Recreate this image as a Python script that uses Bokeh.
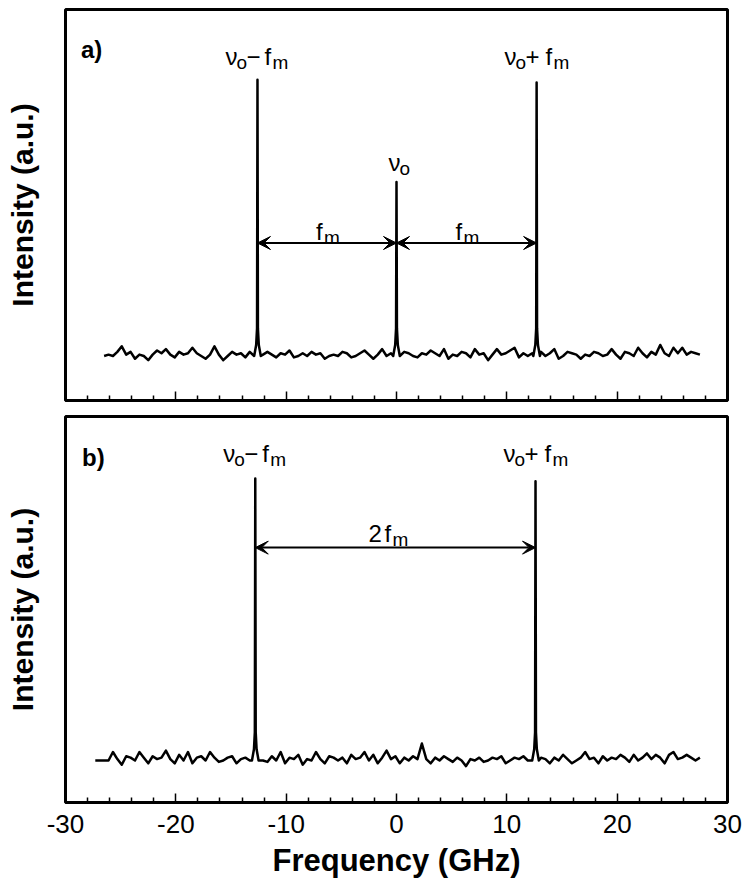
import numpy as np
from bokeh.plotting import figure
from bokeh.layouts import column
from bokeh.models import Range1d, Arrow, VeeHead, FixedTicker, CustomLabelingPolicy
from bokeh.core.properties import value
from bokeh.embed import file_html
from bokeh.resources import INLINE

# ---------------- data ----------------
X_MAJOR = [-30, -20, -10, 0, 10, 20, 30]
X_MINOR = [-28, -26, -24, -22, -18, -16, -14, -12, -8, -6, -4, -2,
           2, 4, 6, 8, 12, 14, 16, 18, 22, 24, 26, 28]
X_TICK_LABELS = ["-30", "-20", "-10", "0", "10", "20", "30"]

# panel a) peaks (GHz, normalised intensity)
PEAK_A_X = [-12.6, 0.0, 12.7]
PEAK_A_H = [1.00, 0.63, 0.99]
# panel b) peaks
PEAK_B_X = [-12.8, 12.6]
PEAK_B_H = [1.00, 0.99]

NOISE_STEP = 0.4
NOISE_A_START = -26.5
NOISE_A = [
    0.00, 0.005, 0.00, 0.015, 0.035, 0.005, 0.015, -0.01, 0.005, 0.00,
    -0.015, 0.005, 0.02, 0.01, 0.025, 0.005, -0.005, 0.015, 0.005, 0.01,
    0.03, 0.01, 0.00, -0.01, 0.005, 0.035, 0.005, -0.015, 0.00, 0.015,
    0.005, 0.01, -0.005, 0.015, 0.00, -0.01, 0.005, 0.015, 0.005, -0.005,
    0.01, 0.005, 0.02, -0.005, 0.00, 0.01, 0.00, 0.015, 0.005, 0.01,
    -0.01, 0.00, 0.005, 0.00, 0.015, 0.01, -0.005, 0.00, 0.01, 0.02,
    0.005, -0.01, 0.005, 0.025, 0.00, 0.01, -0.005, 0.00, 0.015, 0.01,
    0.00, -0.005, 0.01, 0.005, 0.02, 0.01, 0.00, 0.025, -0.01, 0.005,
    0.00, 0.015, 0.01, -0.005, 0.025, 0.005, 0.01, -0.015, 0.005, 0.025,
    0.005, 0.01, 0.02, 0.03, -0.005, 0.01, 0.00, 0.01, -0.005, 0.015,
    0.00, 0.01, 0.025, -0.01, 0.00, 0.015, 0.01, 0.005, -0.01, 0.005,
    0.00, 0.015, 0.01, 0.00, 0.005, 0.025, 0.005, -0.01, 0.015, 0.01,
    0.00, 0.03, 0.01, -0.005, 0.015, 0.005, 0.04, 0.01, 0.00, 0.03,
    0.01, 0.03, 0.005, 0.015, 0.01, 0.005,
]
NOISE_B_START = -27.3
NOISE_B = [
    0.00, 0.00, 0.00, 0.00, 0.03, 0.005, -0.015, 0.015, 0.01, 0.00,
    0.03, 0.01, -0.01, 0.015, 0.005, 0.01, 0.035, 0.005, -0.01, 0.02,
    0.00, 0.03, -0.01, 0.01, 0.015, 0.00, 0.03, 0.01, -0.005, 0.00,
    0.01, 0.015, -0.01, 0.005, 0.01, 0.00, 0.015, 0.01, 0.00, -0.005,
    0.015, 0.00, 0.03, -0.01, 0.01, 0.005, 0.02, -0.015, 0.005, 0.00,
    0.03, 0.005, -0.01, 0.015, 0.01, 0.00, 0.01, -0.01, 0.02, 0.005,
    0.01, 0.03, 0.00, 0.02, -0.01, 0.01, 0.035, 0.005, 0.015, -0.01,
    0.01, 0.00, 0.015, 0.005, 0.06, 0.005, -0.01, 0.01, 0.00, 0.015,
    0.005, -0.005, 0.01, 0.00, -0.02, 0.005, 0.00, 0.01, -0.005, 0.00,
    0.01, 0.005, 0.015, -0.01, 0.00, 0.01, 0.005, 0.015, 0.00, 0.01,
    0.00, 0.01, 0.005, -0.01, 0.01, 0.00, 0.02, 0.005, -0.01, 0.00,
    0.01, 0.03, 0.005, 0.01, -0.01, 0.015, 0.00, 0.01, 0.005, 0.02,
    0.01, -0.005, 0.02, 0.00, 0.01, 0.025, 0.005, 0.02, 0.01, -0.01,
    0.02, 0.03, 0.005, 0.01, 0.02, 0.01, 0.00, 0.01,
]

# narrow line shape of each peak (offset in GHz, base level; None = peak top)
PEAK_DX = [-0.3, -0.12, -0.04, 0.0, 0.04, 0.12, 0.3]
PEAK_BASE = [0.0, 0.04, 0.10, None, 0.10, 0.04, 0.0]

# ---------------- styling ----------------
FONT = "Liberation Sans"
MAIN_SIZE = "24px"
SUB_SIZE = "19px"
SUB_DY = 6
W = 750


def spectrum(start, noise, px, ph):
    nx = start + NOISE_STEP * np.arange(len(noise))
    pts = [(float(x), y) for x, y in zip(nx, noise)
           if min(abs(x - p) for p in px) > 0.35]
    for p, h in zip(px, ph):
        for dx, by in zip(PEAK_DX, PEAK_BASE):
            pts.append((p + dx, h if by is None else by))
    pts.sort()
    return [a for a, _ in pts], [b for _, b in pts]


def make_fig(height, top, bottom, yr, show_labels):
    p = figure(width=W, height=height, x_range=Range1d(-30, 30),
               y_range=Range1d(*yr), output_backend="svg",
               toolbar_location=None, min_border_left=65,
               min_border_right=23, min_border_top=top,
               min_border_bottom=bottom)
    p.background_fill_color = "white"
    p.border_fill_color = "white"
    p.outline_line_color = "black"
    p.outline_line_width = 3
    p.outline_line_alpha = 1
    p.grid.visible = False
    ax = p.xaxis[0]
    ax.ticker = FixedTicker(ticks=X_MAJOR, minor_ticks=X_MINOR)
    ax.axis_line_width = 3
    ax.axis_line_color = "black"
    ax.major_tick_in = 9
    ax.major_tick_out = 0
    ax.minor_tick_in = 5
    ax.minor_tick_out = 0
    ax.major_tick_line_width = 1.5
    ax.minor_tick_line_width = 1.5
    ax.major_tick_line_color = "black"
    ax.minor_tick_line_color = "black"
    if show_labels:
        ax.major_label_overrides = dict(zip(X_MAJOR, X_TICK_LABELS))
        ax.major_label_text_font = FONT
        ax.major_label_text_font_size = "26px"
        ax.major_label_text_color = "black"
        ax.major_label_standoff = 12
        ax.axis_label = "Frequency (GHz)"
        ax.axis_label_text_font = FONT
        ax.axis_label_text_font_size = "31px"
        ax.axis_label_text_font_style = "bold"
        ax.axis_label_text_color = "black"
        ax.axis_label_standoff = 7
    else:
        ax.major_label_policy = CustomLabelingPolicy(code="return []")
        ax.major_label_standoff = 0
    ay = p.yaxis[0]
    ay.ticker = FixedTicker(ticks=[])
    ay.axis_line_color = None
    ay.major_tick_line_color = None
    ay.minor_tick_line_color = None
    ay.major_label_standoff = 0
    ay.axis_label = "Intensity (a.u.)"
    ay.axis_label_text_font = FONT
    ay.axis_label_text_font_size = "30px"
    ay.axis_label_text_font_style = "bold"
    ay.axis_label_text_color = "black"
    ay.axis_label_standoff = 27
    return p


def add_label(p, x, y, pieces):
    for txt, dx, sub in pieces:
        p.text(x=[x], y=[y], text=[txt], x_offset=dx,
               y_offset=SUB_DY if sub else 0,
               text_font=value(FONT),
               text_font_size=SUB_SIZE if sub else MAIN_SIZE,
               text_align="left", text_baseline="alphabetic",
               text_color="black")


MINUS_LBL = [("ν", -32, False), ("o", -21, True), ("−", -11, False),
             ("f", 7, False), ("m", 15, True)]
PLUS_LBL = [("ν", -32, False), ("o", -21, True), ("+", -11, False),
            ("f", 9, False), ("m", 17, True)]
NU0_LBL = [("ν", -8, False), ("o", 3, True)]
FM_LBL = [("f", -11, False), ("m", -3, True)]
TWOFM_LBL = [("2", -27, False), ("f", -11, False), ("m", -3, True)]


def arrow(p, xs, xe, y):
    p.add_layout(Arrow(start=VeeHead(size=13, fill_color="black", line_color="black"),
                       end=VeeHead(size=13, fill_color="black", line_color="black"),
                       x_start=xs, y_start=y, x_end=xe, y_end=y,
                       line_width=2, line_color="black"))


# ---------------- panel a ----------------
pa = make_fig(411, 9, 8, (-0.161, 1.254), False)
xa, ya = spectrum(NOISE_A_START, NOISE_A, PEAK_A_X, PEAK_A_H)
pa.line(xa, ya, line_color="black", line_width=2.5, line_join="round")
pa.text(x=[-28.6], y=[1.111], text=["a)"], text_font=value(FONT),
        text_font_size="24px", text_font_style="bold",
        text_align="left", text_baseline="alphabetic")
add_label(pa, PEAK_A_X[0], 1.083, MINUS_LBL)
add_label(pa, PEAK_A_X[2], 1.083, PLUS_LBL)
add_label(pa, PEAK_A_X[1], 0.699, NU0_LBL)
ARROW_A_Y = 0.409
for xs, xe in [(PEAK_A_X[0], PEAK_A_X[1]), (PEAK_A_X[1], PEAK_A_X[2])]:
    arrow(pa, xs, xe, ARROW_A_Y)
    add_label(pa, (xs + xe) / 2, 0.452, FM_LBL)

# ---------------- panel b ----------------
pb = make_fig(474, 5, 83, (-0.149, 1.22), True)
xb, yb = spectrum(NOISE_B_START, NOISE_B, PEAK_B_X, PEAK_B_H)
pb.line(xb, yb, line_color="black", line_width=2.5, line_join="round")
pb.text(x=[-28.5], y=[1.074], text=["b)"], text_font=value(FONT),
        text_font_size="24px", text_font_style="bold",
        text_align="left", text_baseline="alphabetic")
add_label(pb, PEAK_B_X[0], 1.089, MINUS_LBL)
add_label(pb, PEAK_B_X[1], 1.089, PLUS_LBL)
arrow(pb, PEAK_B_X[0], PEAK_B_X[1], 0.755)
add_label(pb, (PEAK_B_X[0] + PEAK_B_X[1]) / 2, 0.805, TWOFM_LBL)

layout = column(pa, pb, spacing=0)
open("out.html", "w").write(file_html(layout, INLINE))
